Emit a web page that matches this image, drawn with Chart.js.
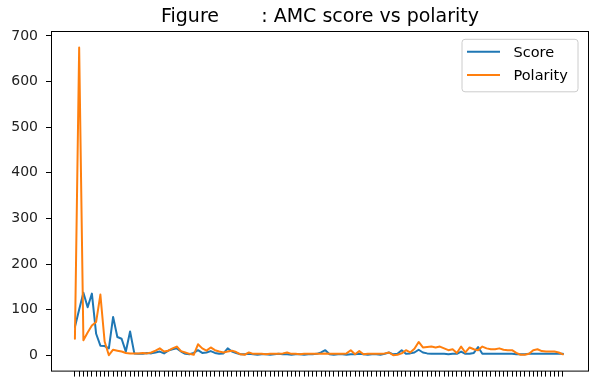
<!DOCTYPE html>
<html><head><meta charset="utf-8">
<script src="https://cdn.jsdelivr.net/npm/chart.js@4.4.0/dist/chart.umd.min.js"></script>
<style>html,body{margin:0;padding:0;background:#fff;}canvas{display:block;}</style>
</head><body>
<canvas id="c" width="589" height="387"></canvas>
<script>
const titleText = 'Figure       : AMC score vs polarity';
const seriesNames = ['Score', 'Polarity'];
const scoreValues = [62,100,137,105,135,47,21,20,15,84,40,36,8,52,4,3,3,5,4,6,8,4,10,13,15,8,3,2,5,11,5,6,9,5,3,4,15,8,5,2,2,3,2,1,2,2,1,2,3,2,2,1,2,2,1,2,2,3,6,11,2,1,2,2,1,2,2,3,2,1,2,2,1,3,6,2,3,11,3,4,6,12,6,4,3,3,3,3,2,3,3,8,3,3,5,18,3,3,3,3,3,3,3,3,2,2,2,3,3,3,3,3,3,3,3,3];
const polarityValues = [36,675,33,50,65,73,133,30,0,12,10,8,5,4,4,4,5,4,6,10,15,8,10,15,19,9,6,3,1,24,15,10,17,11,8,6,8,10,7,2,1,6,3,3,3,2,3,3,3,4,6,3,3,2,3,3,3,3,3,4,3,3,3,3,4,11,2,9,2,3,3,3,3,4,6,0,1,4,11,6,14,29,17,18,19,17,19,15,11,13,5,19,6,17,13,11,19,15,13,13,15,12,11,11,5,1,1,3,11,13,9,8,8,8,6,2];
const categories = scoreValues.map((_, i) => i);
const yTickValues = [0, 100, 200, 300, 400, 500, 600, 700];
const yTickLabels = ['0', '100', '200', '300', '400', '500', '600', '700'];
const yMin = -33.75, yMax = 708.75;
const xMin = -5.4, xMax = 120.9;

const decor = {
  id: 'decor',
  afterDraw(chart) {
    const ctx = chart.ctx, a = chart.chartArea;
    ctx.save();
    ctx.strokeStyle = '#000';
    ctx.lineWidth = 1;
    ctx.strokeRect(a.left - 0.5, a.top - 0.5, a.right - a.left + 1, a.bottom - a.top + 1);
    ctx.fillStyle = '#000';
    ctx.font = '19px "DejaVu Sans"';
    ctx.textAlign = 'center';
    ctx.textBaseline = 'alphabetic';
    ctx.fillText(titleText, (a.left + a.right) / 2, 22);
    // legend
    const bw = 116, bh = 52.5;
    const bx = a.right - 10 - bw, by = a.top + 7.3;
    const r = 3;
    ctx.beginPath();
    ctx.moveTo(bx + r, by);
    ctx.lineTo(bx + bw - r, by);
    ctx.quadraticCurveTo(bx + bw, by, bx + bw, by + r);
    ctx.lineTo(bx + bw, by + bh - r);
    ctx.quadraticCurveTo(bx + bw, by + bh, bx + bw - r, by + bh);
    ctx.lineTo(bx + r, by + bh);
    ctx.quadraticCurveTo(bx, by + bh, bx, by + bh - r);
    ctx.lineTo(bx, by + r);
    ctx.quadraticCurveTo(bx, by, bx + r, by);
    ctx.closePath();
    ctx.fillStyle = 'rgba(255,255,255,0.8)';
    ctx.fill();
    ctx.strokeStyle = '#cccccc';
    ctx.lineWidth = 1;
    ctx.stroke();
    chart.data.datasets.forEach((ds, k) => {
      const ly = by + 12.4 + k * 23.3;
      ctx.strokeStyle = ds.borderColor;
      ctx.lineWidth = 2;
      ctx.beginPath();
      ctx.moveTo(bx + 5, ly);
      ctx.lineTo(bx + 38, ly);
      ctx.stroke();
      ctx.fillStyle = '#000';
      ctx.font = '14.5px "DejaVu Sans"';
      ctx.textAlign = 'left';
      ctx.textBaseline = 'alphabetic';
      ctx.fillText(ds.label, bx + 51.5, ly + 5.3);
    });
    ctx.restore();
  }
};

new Chart(document.getElementById('c'), {
  type: 'line',
  data: {
    labels: categories,
    datasets: [
      { label: seriesNames[0], data: scoreValues, borderColor: '#1f77b4', backgroundColor: '#1f77b4', borderWidth: 2, pointRadius: 0, tension: 0, order: 1, borderJoinStyle: 'round', borderCapStyle: 'round' },
      { label: seriesNames[1], data: polarityValues, borderColor: '#ff7f0e', backgroundColor: '#ff7f0e', borderWidth: 2, pointRadius: 0, tension: 0, order: 0, borderJoinStyle: 'round', borderCapStyle: 'round' }
    ]
  },
  options: {
    responsive: false,
    animation: false,
    devicePixelRatio: 1,
    layout: { padding: { top: 32, right: 1, bottom: 0, left: 0 } },
    plugins: { legend: { display: false }, tooltip: { enabled: false }, title: { display: false } },
    scales: {
      x: {
        type: 'linear', min: xMin, max: xMax, bounds: 'data',
        afterBuildTicks: s => { s.ticks = categories.map(v => ({ value: v })); },
        afterFit: s => { s.height = 9; },
        ticks: { display: false },
        grid: { drawOnChartArea: false, drawTicks: true, tickLength: 6, color: '#000', lineWidth: 1 },
        border: { display: false }
      },
      y: {
        type: 'linear', min: yMin, max: yMax, bounds: 'data',
        afterBuildTicks: s => { s.ticks = yTickValues.map(v => ({ value: v })); },
        afterFit: s => { s.width = 52; },
        ticks: { font: { family: 'DejaVu Sans', size: 14 }, color: '#222', padding: 8, callback: (v, i) => yTickLabels[i] },
        grid: { drawOnChartArea: false, drawTicks: true, tickLength: 6, color: '#000', lineWidth: 1 },
        border: { display: false }
      }
    }
  },
  plugins: [decor]
});
</script>
</body></html>
